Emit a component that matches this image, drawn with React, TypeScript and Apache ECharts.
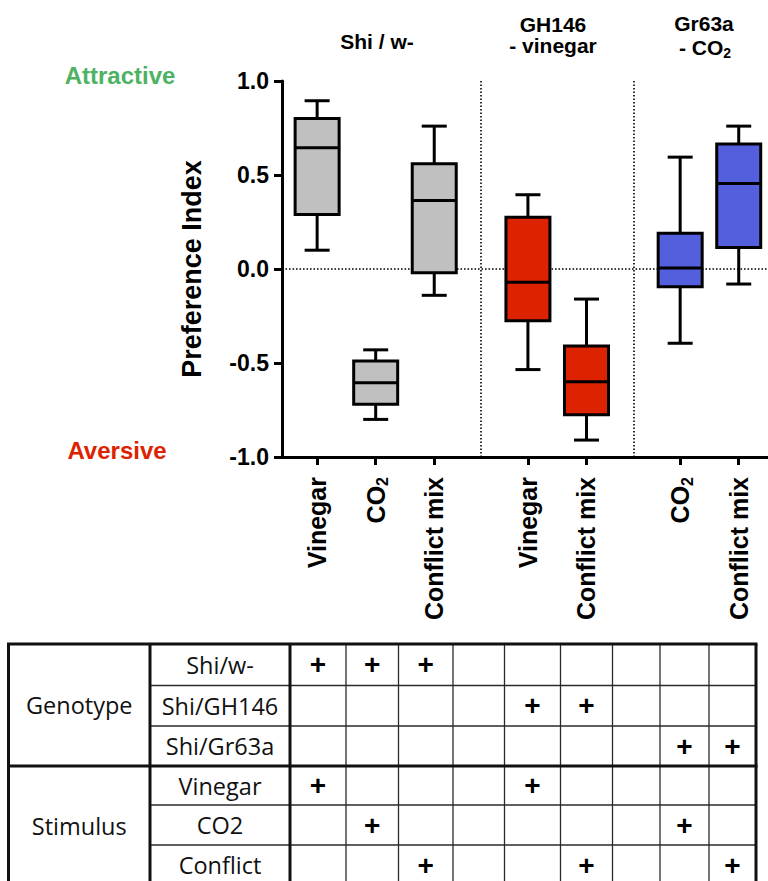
import React, { useEffect, useRef } from 'react';
import * as echarts from 'echarts';

// ---------------- data ----------------
const categories = ['Vinegar', 'CO2', 'Conflict mix', 'Vinegar', 'Conflict mix', 'CO2', 'Conflict mix'];
const genotypes = ['Shi/w-', 'Shi/w-', 'Shi/w-', 'Shi/GH146', 'Shi/GH146', 'Shi/Gr63a', 'Shi/Gr63a'];
const minValues = [0.10, -0.80, -0.14, -0.535, -0.91, -0.395, -0.08];
const q1Values = [0.29, -0.72, -0.02, -0.275, -0.775, -0.095, 0.115];
const medianValues = [0.645, -0.605, 0.365, -0.07, -0.60, 0.005, 0.455];
const q3Values = [0.80, -0.49, 0.56, 0.275, -0.41, 0.19, 0.665];
const maxValues = [0.895, -0.43, 0.76, 0.395, -0.16, 0.595, 0.76];

const yMin = -1;
const yMax = 1;
const yStep = 0.5;

const tableGenotypeRows = ['Shi/w-', 'Shi/GH146', 'Shi/Gr63a'];
const tableStimulusRows = ['Vinegar', 'CO2', 'Conflict'];
const stimulusOfCategory: Record<string, string> = { 'Vinegar': 'Vinegar', 'CO2': 'CO2', 'Conflict mix': 'Conflict' };

// ---------------- layout / style ----------------
const FONT = '"Liberation Sans", Arial, Helvetica, sans-serif';
const TABLE_FONT = '"Open Sans", "Noto Sans", sans-serif';
const genotypeColors: Record<string, string> = {
  'Shi/w-': '#c0c0c0',
  'Shi/GH146': '#dd2200',
  'Shi/Gr63a': '#535fdc',
};
const SLOT_COUNT = 84;
const boxSlots = [6, 16, 26, 42, 52, 68, 78];
const separatorSlots = [34, 60];
const boxTableCols = [0, 1, 2, 4, 5, 7, 8];

const GRID_LEFT = 282;
const GRID_TOP = 81;
const GRID_W = 486;
const GRID_H = 376;

const colEdges = [8.5, 150, 290, 346, 398.5, 453, 504.5, 560.5, 612.5, 660, 709, 756];
const rowEdges = [644, 685.5, 726, 766, 805, 845, 885];

function buildTable(): any[] {
  const els: any[] = [];
  const thin = { stroke: '#2a2a2a', lineWidth: 1.3 };
  const thick = { stroke: '#111', lineWidth: 3 };
  const left = colEdges[0];
  const right = colEdges[colEdges.length - 1];
  const top = rowEdges[0];
  const bottom = rowEdges[rowEdges.length - 1];
  [1, 2, 4, 5].forEach((r) => {
    els.push({ type: 'line', shape: { x1: colEdges[1], y1: rowEdges[r], x2: right, y2: rowEdges[r] }, style: thin });
  });
  for (let c = 3; c < colEdges.length - 1; c++) {
    els.push({ type: 'line', shape: { x1: colEdges[c], y1: top, x2: colEdges[c], y2: bottom }, style: thin });
  }
  els.push({ type: 'line', shape: { x1: left - 1.5, y1: top, x2: right + 1.5, y2: top }, style: thick });
  els.push({ type: 'line', shape: { x1: left - 1.5, y1: rowEdges[3], x2: right + 1.5, y2: rowEdges[3] }, style: thick });
  [0, 1, 2, colEdges.length - 1].forEach((c) => {
    els.push({ type: 'line', shape: { x1: colEdges[c], y1: top, x2: colEdges[c], y2: bottom }, style: thick });
  });
  const textStyle = (text: string, x: number, y: number) => ({
    type: 'text',
    x,
    y,
    style: { text, fill: '#111', fontSize: 23.5, fontFamily: TABLE_FONT, textAlign: 'center', textVerticalAlign: 'middle' },
  });
  els.push(textStyle('Genotype', (colEdges[0] + colEdges[1]) / 2, (rowEdges[0] + rowEdges[3]) / 2));
  els.push(textStyle('Stimulus', (colEdges[0] + colEdges[1]) / 2, (rowEdges[3] + rowEdges[6]) / 2));
  const rowLabels = [...tableGenotypeRows, ...tableStimulusRows];
  rowLabels.forEach((lab, r) => {
    els.push(textStyle(lab, (colEdges[1] + colEdges[2]) / 2, (rowEdges[r] + rowEdges[r + 1]) / 2));
  });
  categories.forEach((cat, i) => {
    const col = boxTableCols[i];
    const cx = (colEdges[col + 2] + colEdges[col + 3]) / 2;
    const gRow = tableGenotypeRows.indexOf(genotypes[i]);
    const sRow = 3 + tableStimulusRows.indexOf(stimulusOfCategory[cat]);
    [gRow, sRow].forEach((r) => {
      els.push({
        type: 'text',
        x: cx,
        y: (rowEdges[r] + rowEdges[r + 1]) / 2,
        style: { text: '+', fill: '#000', fontSize: 28, fontWeight: 'bold', fontFamily: FONT, textAlign: 'center', textVerticalAlign: 'middle' },
      });
    });
  });
  return els;
}

export default function App() {
  const ref = useRef<HTMLDivElement>(null);
  useEffect(() => {
    if (!ref.current) return;
    const chart = echarts.init(ref.current, undefined, { renderer: 'svg' });
    const slotNames = Array.from({ length: SLOT_COUNT }, (_, i) => String(i));
    const boxData = categories.map((_, i) => [boxSlots[i], minValues[i], q1Values[i], medianValues[i], q3Values[i], maxValues[i]]);
    const titleStyle = { fill: '#000', fontSize: 21, fontWeight: 'bold', fontFamily: FONT, textAlign: 'center', textVerticalAlign: 'middle' };

    const option: any = {
      animation: false,
      grid: { left: GRID_LEFT, top: GRID_TOP, width: GRID_W, height: GRID_H, containLabel: false },
      xAxis: {
        type: 'category',
        data: slotNames,
        boundaryGap: false,
        axisLine: { show: true, onZero: false, lineStyle: { color: '#000', width: 3 } },
        axisTick: {
          show: true,
          length: 8,
          interval: (idx: number) => boxSlots.indexOf(idx) >= 0,
          lineStyle: { color: '#000', width: 3 },
        },
        axisLabel: {
          interval: 0,
          rotate: 90,
          margin: 20,
          color: '#000',
          fontSize: 25,
          fontWeight: 'bold',
          fontFamily: FONT,
          formatter: (_v: string, idx: number) => {
            const k = boxSlots.indexOf(idx);
            if (k < 0) return '';
            const c = categories[k];
            return c === 'CO2' ? 'CO{sub|2}' : c;
          },
          rich: {
            sub: { fontSize: 16, fontWeight: 'bold', fontFamily: FONT, color: '#000', padding: [14, 0, 0, 0] },
          },
        },
        splitLine: { show: false },
      },
      yAxis: {
        type: 'value',
        min: yMin,
        max: yMax,
        interval: yStep,
        name: 'Preference Index',
        nameLocation: 'middle',
        nameGap: 77,
        nameTextStyle: { color: '#000', fontSize: 27, fontWeight: 'bold', fontFamily: FONT },
        axisLine: { show: true, lineStyle: { color: '#000', width: 3 } },
        axisTick: { show: true, length: 8, lineStyle: { color: '#000', width: 3 } },
        axisLabel: {
          margin: 13,
          color: '#000',
          fontSize: 23,
          fontWeight: 'bold',
          fontFamily: FONT,
          formatter: (v: number) => v.toFixed(1),
        },
        splitLine: { show: false },
      },
      series: [
        {
          type: 'line',
          data: [],
          silent: true,
          markLine: {
            z: 1,
            silent: true,
            symbol: 'none',
            label: { show: false },
            lineStyle: { color: '#000', width: 1.6, type: [1.6, 1.9] },
            data: [{ yAxis: 0 }, ...separatorSlots.map((s) => ({ xAxis: s }))],
          },
        },
        {
          type: 'custom',
          z: 3,
          data: boxData,
          encode: { x: 0, y: [1, 2, 3, 4, 5] },
          renderItem: (params: any, api: any) => {
            const i = params.dataIndex;
            const x = api.value(0);
            const pMin = api.coord([x, api.value(1)]);
            const pQ1 = api.coord([x, api.value(2)]);
            const pMed = api.coord([x, api.value(3)]);
            const pQ3 = api.coord([x, api.value(4)]);
            const pMax = api.coord([x, api.value(5)]);
            const cx = pMin[0];
            const bw = 44;
            const cw = 25;
            const ls = { stroke: '#000', lineWidth: 3 };
            return {
              type: 'group',
              children: [
                { type: 'line', shape: { x1: cx, y1: pMax[1], x2: cx, y2: pQ3[1] }, style: ls },
                { type: 'line', shape: { x1: cx, y1: pQ1[1], x2: cx, y2: pMin[1] }, style: ls },
                { type: 'line', shape: { x1: cx - cw / 2, y1: pMax[1], x2: cx + cw / 2, y2: pMax[1] }, style: ls },
                { type: 'line', shape: { x1: cx - cw / 2, y1: pMin[1], x2: cx + cw / 2, y2: pMin[1] }, style: ls },
                {
                  type: 'rect',
                  shape: { x: cx - bw / 2, y: pQ3[1], width: bw, height: pQ1[1] - pQ3[1] },
                  style: { fill: genotypeColors[genotypes[i]], stroke: '#000', lineWidth: 3 },
                },
                { type: 'line', shape: { x1: cx - bw / 2, y1: pMed[1], x2: cx + bw / 2, y2: pMed[1] }, style: ls },
              ],
            };
          },
        },
      ],
      graphic: [
        { type: 'text', x: 377, y: 41, style: { ...titleStyle, text: 'Shi / w-' } },
        { type: 'text', x: 553, y: 24, style: { ...titleStyle, text: 'GH146' } },
        { type: 'text', x: 553, y: 45, style: { ...titleStyle, text: '- vinegar' } },
        { type: 'text', x: 704, y: 23, style: { ...titleStyle, text: 'Gr63a' } },
        {
          type: 'text',
          x: 705,
          y: 47,
          style: {
            ...titleStyle,
            text: '- CO{sub|2}',
            rich: { sub: { fontSize: 14, fontWeight: 'bold', fontFamily: FONT, fill: '#000', padding: [12, 0, 0, 0] } },
          },
        },
        {
          type: 'text', x: 120, y: 75,
          style: { text: 'Attractive', fill: '#4db262', fontSize: 24, fontWeight: 'bold', fontFamily: FONT, textAlign: 'center', textVerticalAlign: 'middle' },
        },
        {
          type: 'text', x: 117, y: 450,
          style: { text: 'Aversive', fill: '#dd2200', fontSize: 24, fontWeight: 'bold', fontFamily: FONT, textAlign: 'center', textVerticalAlign: 'middle' },
        },
        ...buildTable(),
      ],
    };
    chart.setOption(option);
    return () => chart.dispose();
  }, []);
  return <div ref={ref} style={{ position: 'absolute', left: 0, top: 0, width: 768, height: 881, background: '#fff' }} />;
}
